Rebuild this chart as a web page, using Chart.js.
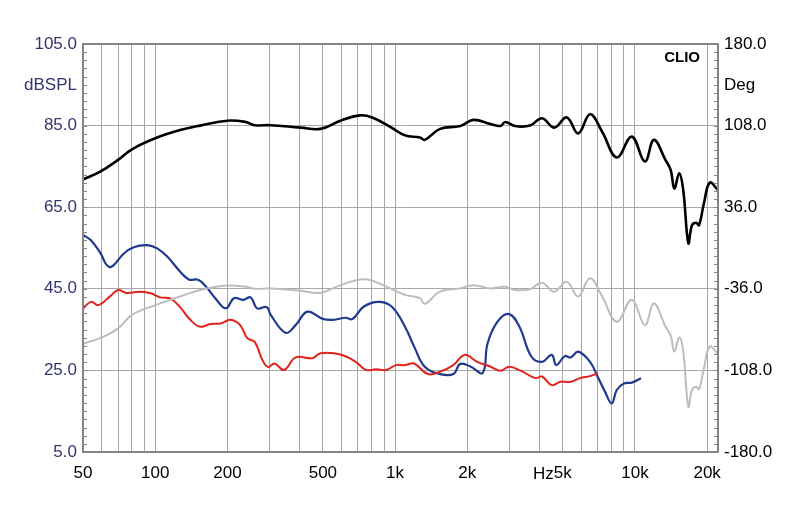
<!DOCTYPE html>
<html>
<head>
<meta charset="utf-8">
<script src="https://cdn.jsdelivr.net/npm/chart.js@4.4.1/dist/chart.umd.min.js"></script>
<style>
  html, body { margin: 0; padding: 0; background: #fff; }
  #wrap { width: 800px; height: 511px; }
</style>
</head>
<body>
<div id="wrap"><canvas id="clioChart" width="800" height="511"></canvas></div>
<script>
// frequency response data (Hz / dBSPL)
const fBlack = [50,59,70,80,100,127,154,200,238,260,303,404,489,592,715,803,954,1100,1270,1330,1540,1870,2120,2500,2750,2880,3160,3650,4100,4600,5200,5800,6500,7300,8400,9700,11000,12000,13400,14100,14600,15300,15900,16700,17300,18000,18500,19400,20500,22200];
const dbBlack = [71.8,73.7,76.6,79.2,81.9,83.9,85.0,86.2,85.9,85.1,85.1,84.5,84.2,86.2,87.5,87.0,84.7,82.6,82.1,81.5,84.2,84.9,86.4,85.4,84.9,85.9,84.9,85.0,86.8,84.5,87.0,83.1,87.8,83.5,77.2,82.3,76.2,81.5,76.6,74.1,69.6,73.3,69.2,56.2,60.6,61.2,60.6,66.0,71.0,69.2];

const fGrey = [50,59,70,80,100,127,154,200,238,260,303,404,489,592,715,803,954,1100,1270,1330,1540,1870,2120,2500,2880,3160,3650,4100,4600,5200,5800,6500,7300,8400,9700,11000,12000,13400,14100,14600,15300,15900,16700,17300,18000,18500,19400,20500,22200];
const dbGrey = [31.6,32.9,35.3,38.6,41.0,43.1,44.7,45.8,45.5,45.0,45.1,44.5,44.0,45.9,47.3,47.0,45.1,43.5,42.7,41.3,44.3,45.1,45.9,45.1,45.5,44.7,44.9,46.5,44.3,46.7,43.1,47.6,43.1,36.9,42.3,36.1,41.4,35.8,33.5,29.6,33.1,29.6,16.1,20.2,21.0,20.4,25.5,30.8,29.0];

const fBlue = [50,53.7,59.2,62.1,64.6,67.2,74.2,81.4,92.6,101.9,112.2,127.1,138,151,163,178,197,213,233,250,266,292,303,350,385,431,496,551,623,664,739,852,970,1100,1210,1330,1540,1750,1870,2070,2320,2430,2670,2990,3300,3700,4100,4500,4700,5100,5400,5800,6500,7000,7500,8000,8400,9000,9700,10600];
const dbBlue = [58.2,57.0,53.7,51.2,50.3,50.8,53.7,55.2,55.7,54.9,52.9,49.2,47.3,47.2,45.5,42.7,40.2,42.7,42.3,42.9,40.2,40.5,38.6,34.2,36.1,39.4,37.7,37.4,37.9,37.6,40.6,41.8,40.6,35.7,30.4,25.9,24.1,24.1,26.6,25.9,24.4,31.6,36.9,38.8,35.7,28.4,27.1,28.8,26.3,28.5,28.2,29.6,27.1,23.4,19.8,16.9,20.2,21.8,22.0,23.1];

const fRed = [50,54,58,65,70,76,87,96,105,116,127,140,154,170,187,206,226,242,260,280,296,314,345,385,452,489,592,686,756,834,918,1010,1100,1200,1370,1540,1750,1950,2200,2500,2750,2990,3350,3850,4100,4500,4900,5400,5900,6500,7000];
const dbRed = [40.2,41.8,41.0,43.2,44.7,44.0,44.3,43.9,42.9,42.6,40.5,37.4,35.7,36.4,36.5,37.4,36.1,32.9,32.0,27.5,25.8,26.7,25.1,28.2,28.0,29.2,28.9,27.1,25.1,25.3,25.1,26.3,26.3,26.7,24.1,24.7,26.3,28.8,27.1,25.9,24.9,25.9,24.9,23.1,23.5,21.4,22.2,22.2,23.1,23.6,24.3];

// axes
const freqGrid = [50,60,70,80,90,100,200,300,400,500,600,700,800,900,1000,2000,3000,4000,5000,6000,7000,8000,9000,10000,20000];
const freqLabels = {50:'50',100:'100',200:'200',500:'500',1000:'1k',2000:'2k',5000:'5k',10000:'10k',20000:'20k'};
const dbTicks = [5,25,45,65,85,105];
const degTicks = [-180,-108,-36,36,108,180];

const toPts = (fs, ys) => fs.map((f, i) => ({x: f, y: ys[i]}));

const navy = '#34346f';
const frameColor = '#858585';
const fontFam = 'Arial, "Liberation Sans", sans-serif';

// frame, inner minor ticks and the loose captions
const decor = {
  id: 'decor',
  afterDraw(chart) {
    const ctx = chart.ctx;
    const a = chart.chartArea;
    const y = chart.scales.y, y1 = chart.scales.y1, x = chart.scales.x;
    ctx.save();
    ctx.strokeStyle = frameColor;
    ctx.lineWidth = 1;
    for (let v = 5; v <= 105; v += 2) {
      const py = Math.round(y.getPixelForValue(v)) + 0.5;
      ctx.beginPath(); ctx.moveTo(a.left, py); ctx.lineTo(a.left + 4, py); ctx.stroke();
    }
    for (let v = -180; v <= 180; v += 7.2) {
      const py = Math.round(y1.getPixelForValue(v)) + 0.5;
      ctx.beginPath(); ctx.moveTo(a.right - 4, py); ctx.lineTo(a.right, py); ctx.stroke();
    }
    ctx.lineWidth = 2;
    ctx.strokeRect(a.left, a.top, a.right - a.left, a.bottom - a.top);

    ctx.font = '17px ' + fontFam;
    ctx.textBaseline = 'middle';
    ctx.fillStyle = navy;
    ctx.textAlign = 'right';
    ctx.fillText('dBSPL', a.left - 6, 85);
    ctx.fillStyle = '#000';
    ctx.textAlign = 'left';
    ctx.fillText('Deg', a.right + 6, 85);
    // "Hz" sits right before the 5k label
    const x5 = x.getPixelForValue(5000);
    const w5 = ctx.measureText('5k').width;
    ctx.textAlign = 'right';
    ctx.fillText('Hz', x5 - w5 / 2, 474);
    ctx.font = 'bold 15px ' + fontFam;
    ctx.fillText('CLIO', a.right - 18, 58);
    ctx.restore();
  }
};

const line = (data, color, width) => ({
  data: data,
  borderColor: color,
  borderWidth: width,
  pointRadius: 0,
  fill: false,
  tension: 0.4,
  yAxisID: 'y'
});

new Chart(document.getElementById('clioChart').getContext('2d'), {
  type: 'line',
  data: {
    datasets: [
      line(toPts(fGrey, dbGrey), '#bdbdbd', 2),
      line(toPts(fRed, dbRed), '#e0231c', 2),
      line(toPts(fBlue, dbBlue), '#1f3a8f', 2.2),
      line(toPts(fBlack, dbBlack), '#000000', 2.6)
    ]
  },
  options: {
    responsive: false,
    animation: false,
    layout: { padding: { top: 44, left: 0, right: 0, bottom: 0 } },
    plugins: { legend: { display: false }, tooltip: { enabled: false } },
    scales: {
      x: {
        type: 'logarithmic',
        min: 50,
        max: 22200,
        afterBuildTicks: s => { s.ticks = freqGrid.map(v => ({ value: v })); },
        afterFit: s => { s.height = 59; },
        grid: { color: '#a8a8a8', lineWidth: 1, drawTicks: false },
        border: { display: false },
        ticks: {
          autoSkip: false,
          maxRotation: 0,
          padding: 11,
          color: '#000',
          font: { family: fontFam, size: 17 },
          callback: v => freqLabels[v] || ''
        }
      },
      y: {
        position: 'left',
        min: 5,
        max: 105,
        afterBuildTicks: s => { s.ticks = dbTicks.map(v => ({ value: v })); },
        afterFit: s => { s.width = 83; },
        grid: { color: '#a8a8a8', lineWidth: 1, drawTicks: false },
        border: { display: false },
        ticks: {
          padding: 6,
          color: navy,
          font: { family: fontFam, size: 17 },
          callback: v => v.toFixed(1)
        }
      },
      y1: {
        position: 'right',
        min: -180,
        max: 180,
        afterBuildTicks: s => { s.ticks = degTicks.map(v => ({ value: v })); },
        afterFit: s => { s.width = 82; },
        grid: { display: false, drawTicks: false },
        border: { display: false },
        ticks: {
          padding: 6,
          color: '#000',
          font: { family: fontFam, size: 17 },
          callback: v => v.toFixed(1)
        }
      }
    }
  },
  plugins: [decor]
});
</script>
</body>
</html>
